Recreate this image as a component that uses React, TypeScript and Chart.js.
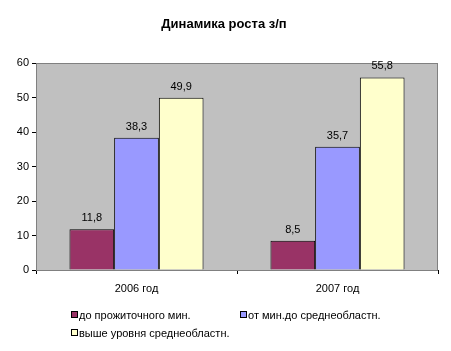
import React, { useEffect, useRef } from "react";
import { Chart, registerables } from "chart.js";

Chart.register(...registerables);

const title = "Динамика роста з/п";
const categories = ["2006 год", "2007 год"];
const seriesNames = ["до прожиточного мин.", "от мин.до среднеобластн.", "выше уровня среднеобластн."];
const seriesLow = [11.8, 8.5];
const seriesMid = [38.3, 35.7];
const seriesHigh = [49.9, 55.8];
const colors = ["#993366", "#9999FF", "#FFFFCC"];
const yTicks = [0, 10, 20, 30, 40, 50, 60];

const FONT = "'Liberation Sans', Arial, sans-serif";

const fmt = (v: number) => v.toFixed(1).replace(".", ",");

const decorPlugin = {
  id: "decor",
  beforeDatasetsDraw(chart: any) {
    const { ctx, chartArea: a } = chart;
    ctx.save();
    ctx.fillStyle = "#C0C0C0";
    ctx.fillRect(a.left, a.top, a.right - a.left, a.bottom - a.top);
    ctx.strokeStyle = "#808080";
    ctx.lineWidth = 1;
    ctx.strokeRect(a.left + 0.5, a.top + 0.5, a.right - a.left - 1, a.bottom - a.top);
    ctx.restore();
  },
  afterDatasetsDraw(chart: any) {
    const { ctx } = chart;
    ctx.save();
    ctx.font = `11px ${FONT}`;
    ctx.fillStyle = "#000";
    ctx.textAlign = "center";
    ctx.textBaseline = "alphabetic";
    chart.data.datasets.forEach((ds: any, di: number) => {
      const meta = chart.getDatasetMeta(di);
      meta.data.forEach((bar: any, i: number) => {
        ctx.fillText(fmt(ds.data[i]), bar.x, bar.y - 8);
      });
    });
    // title
    ctx.font = `bold 13px ${FONT}`;
    ctx.textBaseline = "middle";
    ctx.fillText(title, 224, 24);
    // legend
    const items = [
      { x: 71, y: 315 },
      { x: 240, y: 315 },
      { x: 71, y: 333 },
    ];
    ctx.font = `11px ${FONT}`;
    ctx.textAlign = "left";
    items.forEach((p, i) => {
      ctx.fillStyle = colors[i];
      ctx.fillRect(p.x, p.y - 3, 6, 6);
      ctx.strokeStyle = "#000";
      ctx.lineWidth = 1;
      ctx.strokeRect(p.x + 0.5, p.y - 3.5, 6, 6);
      ctx.fillStyle = "#000";
      ctx.fillText(seriesNames[i], p.x + 8, p.y + 0.5);
    });
    ctx.restore();
  },
};

export default function App() {
  const ref = useRef<HTMLCanvasElement>(null);
  useEffect(() => {
    document.body.style.margin = "0";
    const chart = new Chart(ref.current!, {
      type: "bar",
      data: {
        labels: categories,
        datasets: [seriesLow, seriesMid, seriesHigh].map((d, i) => ({
          label: seriesNames[i],
          data: d,
          backgroundColor: colors[i],
          borderColor: "#000",
          borderWidth: 1,
          borderSkipped: "bottom",
          barPercentage: 1,
          categoryPercentage: 0.667,
        })),
      },
      options: {
        animation: false,
        responsive: false,
        maintainAspectRatio: false,
        layout: { padding: { top: 63, right: 13, left: 0, bottom: 0 } },
        plugins: {
          legend: { display: false },
          title: { display: false },
          tooltip: { enabled: false },
        },
        scales: {
          x: {
            offset: true,
            afterFit: (s: any) => {
              s.height = 81;
            },
            grid: {
              offset: true,
              drawOnChartArea: false,
              drawTicks: true,
              tickLength: 4,
              color: "#000",
            },
            border: { display: true, color: "#000" },
            ticks: {
              color: "#000",
              font: { family: FONT, size: 11 },
              padding: 8,
            },
          },
          y: {
            min: 0,
            max: 60,
            afterFit: (s: any) => {
              s.width = 36;
            },
            afterBuildTicks: (s: any) => {
              s.ticks = yTicks.map((v) => ({ value: v }));
            },
            grid: {
              drawOnChartArea: false,
              drawTicks: true,
              tickLength: 4,
              color: "#000",
            },
            border: { display: true, color: "#000" },
            ticks: {
              color: "#000",
              font: { family: FONT, size: 11 },
              padding: 3,
            },
          },
        },
      },
      plugins: [decorPlugin],
    });
    return () => chart.destroy();
  }, []);
  return <canvas ref={ref} width={451} height={351} style={{ display: "block" }} />;
}
